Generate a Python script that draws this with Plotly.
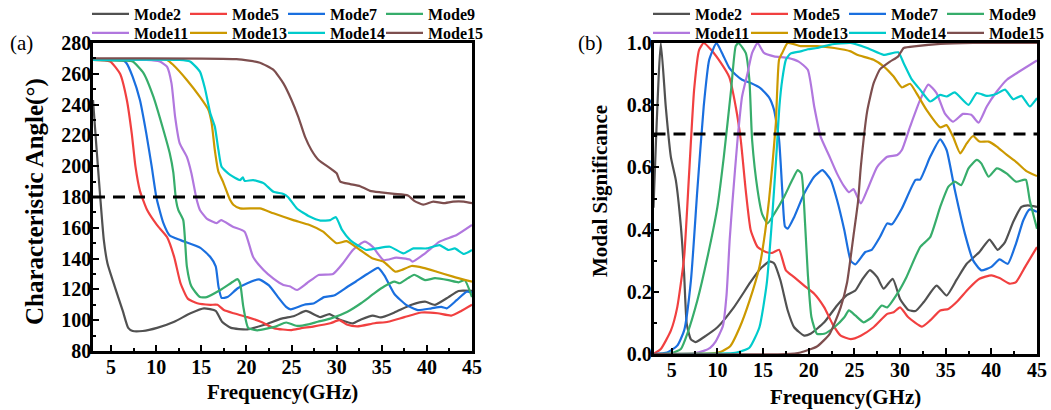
import plotly.graph_objects as go

# ---------------- data: (a) Characteristic Angle (deg) ----------------
ca_mode2_f = [3.0, 3.4, 3.8, 4.2, 4.6, 5.4, 6.3, 6.9, 7.4, 8.5, 10.1, 12.0, 13.8, 15.3, 16.6, 17.3, 18.3, 20.1, 22.0, 23.9, 25.3, 26.6, 28.2, 29.2, 30.3, 31.8, 32.7, 34.0, 34.9, 36.4, 38.3, 39.8, 40.9, 42.4, 43.5, 45.0]
ca_mode2_v = [243, 211, 180, 152, 137, 122, 106, 95, 93, 93, 95, 99, 104.5, 107.7, 106, 99, 95, 94, 97, 101, 102.7, 106, 102, 104, 100.5, 98, 100.5, 103, 101.8, 105, 110, 112, 110, 115, 119, 119]

ca_mode5_f = [3.0, 4.9, 6.0, 6.75, 7.3, 7.7, 8.2, 9.0, 10.1, 11.2, 12.0, 12.7, 13.5, 14.55, 16.0, 16.8, 17.5, 18.6, 20.1, 21.6, 23.1, 25.0, 26.0, 27.5, 29.3, 30.3, 31.2, 32.3, 34.2, 35.7, 37.5, 39.4, 41.2, 42.7, 43.8, 45.0]
ca_mode5_v = [269, 268, 260, 243, 221, 200, 184, 171.5, 161.7, 154, 141, 124, 114, 111, 110, 110, 106.6, 104.5, 102, 99, 94.7, 93.6, 94.7, 96, 98, 100, 97, 96, 98, 99, 102, 105, 104.5, 103, 106, 110]

ca_mode7_f = [3.0, 6.4, 6.7, 7.4, 8.2, 8.9, 9.5, 10.05, 10.8, 11.5, 12.7, 14.9, 16.0, 16.6, 16.9, 17.25, 17.9, 19.0, 20.1, 21.4, 22.5, 23.5, 24.4, 24.9, 26.4, 27.5, 28.6, 29.7, 31.2, 32.1, 33.4, 34.6, 35.3, 36.4, 37.7, 39.0, 40.5, 41.6, 42.2, 43.3, 44.4, 45.0]
ca_mode7_v = [269, 268.5, 267, 258, 243, 221.5, 200, 179, 163, 155, 152, 147, 141, 135, 122, 114.5, 115, 120.6, 124, 126.5, 122.6, 115, 108.6, 107, 110, 111, 115, 116, 121.7, 125, 130, 134, 129, 117, 110, 106.6, 107.7, 108.6, 107.7, 113, 118.5, 118]

ca_mode9_f = [3.0, 6.4, 7.4, 8.6, 9.7, 10.8, 11.5, 11.9, 12.2, 12.45, 13.0, 13.4, 13.9, 14.85, 15.6, 17.1, 18.5, 19.0, 19.3, 19.65, 20.2, 21.2, 23.3, 24.4, 25.6, 27.0, 27.9, 29.3, 31.2, 32.7, 34.2, 35.3, 36.4, 37.0, 37.9, 38.6, 39.8, 40.9, 42.4, 43.5, 44.2, 45.0]
ca_mode9_v = [269, 268.5, 268, 260.5, 245, 223.5, 208.5, 196, 178, 171.6, 165, 135, 122, 115, 115, 119.6, 125, 126.7, 124, 109, 95, 93.4, 96, 98.5, 96.3, 97.5, 99, 101, 105.5, 111, 117.6, 122, 125, 124, 127.3, 129.5, 126, 127.3, 126, 124.6, 126, 115]

ca_mode11_f = [3.0, 8.9, 10.4, 11.2, 11.7, 12.1, 12.6, 13.4, 13.9, 14.5, 14.85, 15.6, 16.7, 17.2, 18.5, 19.8, 20.75, 21.9, 23.0, 24.1, 24.8, 25.6, 26.7, 28.0, 29.6, 30.7, 31.8, 33.1, 34.0, 35.2, 36.6, 38.1, 38.4, 39.8, 41.4, 43.3, 45.0]
ca_mode11_v = [269, 269, 268, 264.6, 253.8, 232, 215, 206, 195.6, 178, 171.6, 166, 163, 165, 160.7, 157.5, 141, 132.6, 127, 122.9, 122, 119.6, 124, 129.4, 130, 137, 145.6, 151, 147.6, 139, 140.6, 139.4, 138, 143.4, 151, 155.3, 161.8]

ca_mode13_f = [3.0, 11.2, 11.9, 13.4, 14.85, 15.8, 16.15, 16.5, 16.9, 17.4, 18.2, 18.55, 19.3, 21.5, 23.0, 25.2, 27.0, 28.5, 30.0, 31.1, 32.6, 34.0, 35.2, 36.5, 37.2, 38.3, 39.6, 41.1, 42.9, 45.0]
ca_mode13_v = [269, 269, 265.7, 256, 245, 236.5, 228, 210.5, 196.4, 190, 178, 175, 172.6, 172.6, 169.4, 165, 161.8, 157.5, 150, 151.3, 145.6, 140, 138, 131.5, 132.6, 135.2, 134, 131.5, 128.3, 125]

ca_mode14_f = [3.0, 12.6, 13.75, 14.85, 15.4, 16.0, 16.5, 16.9, 17.25, 18.2, 19.3, 19.6, 19.8, 20.75, 21.9, 23.0, 24.1, 24.6, 25.6, 27.0, 28.2, 29.3, 29.9, 30.6, 31.5, 32.6, 33.3, 34.4, 35.9, 37.4, 38.5, 40.0, 41.4, 42.4, 43.1, 44.1, 45.0]
ca_mode14_v = [269, 269, 268, 261.4, 250.6, 234.3, 225.7, 210.5, 199.7, 194.3, 191, 192.8, 190.5, 191, 189, 183.4, 182, 180, 172.5, 167.3, 164.7, 165, 167, 158.6, 152, 147.7, 145.6, 146.6, 147.7, 143.4, 146.6, 146.6, 148.8, 145.6, 146.6, 143, 145.6]

ca_mode15_f = [3.0, 18.9, 21.5, 23.0, 24.1, 25.0, 25.75, 26.5, 27.2, 28.0, 29.3, 30.0, 30.4, 31.5, 32.6, 33.7, 34.9, 36.4, 37.9, 38.6, 39.6, 40.7, 41.8, 42.9, 44.1, 45.0]
ca_mode15_v = [270, 269.5, 267.2, 262.5, 253.8, 243, 232, 219, 210.5, 204, 198.6, 195.4, 190, 188.4, 187, 184, 183, 182, 181, 177.5, 175, 177, 176, 177, 177, 176]

# ---------------- data: (b) Modal Significance ----------------
ms_mode2_f = [3.0, 3.8, 4.34, 4.9, 5.44, 6.0, 6.35, 6.64, 7.08, 7.6, 8.5, 10.0, 11.8, 13.6, 14.7, 15.7, 16.2, 16.9, 17.7, 18.4, 19.5, 20.2, 21.7, 23.1, 24.2, 25.1, 25.8, 26.7, 27.5, 28.2, 29.2, 30.0, 30.9, 31.7, 32.6, 34.0, 35.1, 36.2, 37.3, 38.7, 39.8, 40.7, 41.5, 42.4, 43.3, 44.0, 45.0]
ms_mode2_v = [0.47, 1.0, 0.796, 0.634, 0.56, 0.41, 0.26, 0.097, 0.048, 0.038, 0.054, 0.086, 0.15, 0.23, 0.274, 0.298, 0.292, 0.237, 0.14, 0.086, 0.059, 0.065, 0.102, 0.156, 0.19, 0.204, 0.237, 0.27, 0.247, 0.21, 0.242, 0.177, 0.142, 0.138, 0.167, 0.22, 0.188, 0.239, 0.29, 0.328, 0.368, 0.335, 0.36, 0.425, 0.473, 0.478, 0.473]

ms_mode5_f = [3.0, 3.8, 4.9, 5.6, 6.35, 6.9, 7.45, 8.0, 8.5, 9.3, 10.4, 11.3, 12.0, 12.55, 13.1, 13.65, 14.4, 15.3, 16.0, 16.75, 17.5, 18.4, 19.5, 20.6, 21.7, 22.6, 23.5, 24.6, 25.7, 27.1, 28.6, 29.3, 30.0, 30.9, 32.4, 33.3, 34.4, 35.3, 36.2, 37.5, 38.7, 40.0, 40.9, 42.0, 42.7, 43.7, 45.0]
ms_mode5_v = [0.0, 0.016, 0.075, 0.15, 0.31, 0.58, 0.85, 0.978, 1.0, 0.978, 0.935, 0.89, 0.796, 0.69, 0.527, 0.398, 0.344, 0.328, 0.325, 0.335, 0.269, 0.247, 0.22, 0.194, 0.15, 0.097, 0.059, 0.048, 0.059, 0.086, 0.129, 0.134, 0.15, 0.118, 0.088, 0.108, 0.14, 0.145, 0.167, 0.21, 0.242, 0.253, 0.244, 0.226, 0.231, 0.28, 0.344]

ms_mode7_f = [3.0, 4.5, 5.6, 6.35, 7.1, 7.8, 8.5, 9.1, 9.9, 10.5, 11.3, 12.0, 12.7, 13.65, 14.7, 15.7, 16.2, 16.75, 17.1, 17.4, 17.7, 18.4, 19.5, 20.6, 21.5, 22.4, 23.1, 23.9, 24.6, 25.1, 26.2, 26.9, 27.8, 28.6, 29.1, 30.2, 31.7, 32.2, 33.3, 34.4, 35.1, 36.0, 37.1, 38.0, 38.9, 40.0, 40.9, 41.8, 42.7, 43.5, 44.2, 45.0]
ms_mode7_v = [0.0, 0.005, 0.027, 0.075, 0.237, 0.527, 0.796, 0.946, 1.0, 0.968, 0.92, 0.898, 0.882, 0.871, 0.855, 0.823, 0.785, 0.69, 0.527, 0.41, 0.403, 0.44, 0.516, 0.57, 0.591, 0.56, 0.495, 0.398, 0.30, 0.288, 0.328, 0.335, 0.376, 0.42, 0.417, 0.468, 0.56, 0.561, 0.634, 0.69, 0.656, 0.527, 0.387, 0.301, 0.269, 0.28, 0.304, 0.29, 0.355, 0.43, 0.465, 0.457]

ms_mode9_f = [3.0, 4.9, 6.0, 6.7, 7.8, 8.9, 10.0, 10.7, 11.5, 12.0, 12.3, 13.1, 13.5, 13.8, 14.4, 14.9, 15.5, 16.2, 17.3, 18.2, 18.8, 19.2, 19.6, 19.9, 20.3, 20.9, 21.7, 22.8, 23.9, 24.4, 25.1, 26.0, 26.9, 28.0, 28.6, 29.7, 30.7, 32.2, 33.3, 34.4, 35.3, 36.0, 36.7, 37.5, 38.4, 38.9, 39.7, 40.6, 41.7, 42.7, 43.5, 43.8, 44.2, 45.0]
ms_mode9_v = [0.0, 0.002, 0.016, 0.065, 0.172, 0.31, 0.473, 0.634, 0.85, 0.99, 1.0, 0.968, 0.882, 0.688, 0.527, 0.45, 0.42, 0.45, 0.505, 0.56, 0.591, 0.58, 0.42, 0.258, 0.118, 0.065, 0.065, 0.086, 0.118, 0.14, 0.124, 0.102, 0.118, 0.156, 0.15, 0.194, 0.247, 0.344, 0.376, 0.473, 0.538, 0.554, 0.543, 0.597, 0.624, 0.613, 0.57, 0.597, 0.58, 0.554, 0.56, 0.56, 0.495, 0.403]

ms_mode11_f = [3.0, 7.45, 8.5, 9.2, 9.8, 10.6, 11.0, 11.35, 11.65, 12.2, 12.7, 13.3, 13.8, 14.4, 15.1, 16.2, 17.7, 18.9, 19.9, 20.6, 21.3, 22.2, 23.1, 23.9, 24.4, 24.9, 25.7, 26.4, 27.5, 28.6, 29.7, 30.2, 31.1, 32.2, 33.1, 34.0, 34.9, 35.8, 36.9, 37.8, 38.6, 39.5, 40.6, 41.7, 43.1, 45.0]
ms_mode11_v = [0.0, 0.002, 0.01, 0.02, 0.04, 0.09, 0.19, 0.37, 0.49, 0.688, 0.828, 0.903, 0.968, 1.0, 0.968, 0.957, 0.952, 0.94, 0.914, 0.796, 0.699, 0.64, 0.58, 0.538, 0.52, 0.53, 0.484, 0.527, 0.602, 0.634, 0.64, 0.656, 0.731, 0.817, 0.866, 0.839, 0.774, 0.747, 0.772, 0.769, 0.744, 0.796, 0.844, 0.882, 0.909, 0.944]

ms_mode13_f = [3.0, 9.3, 10.3, 11.4, 12.45, 13.5, 14.6, 15.1, 15.65, 16.0, 16.4, 16.75, 17.1, 17.7, 19.1, 20.9, 22.8, 24.6, 25.3, 27.1, 28.2, 29.3, 30.2, 31.1, 31.8, 32.9, 34.4, 35.1, 35.8, 36.6, 37.3, 38.0, 38.7, 39.7, 40.6, 41.7, 42.7, 43.8, 45.0]
ms_mode13_v = [0.0, 0.002, 0.006, 0.025, 0.086, 0.17, 0.28, 0.366, 0.495, 0.602, 0.742, 0.946, 0.968, 1.0, 0.99, 0.99, 0.984, 0.973, 0.962, 0.946, 0.925, 0.892, 0.857, 0.869, 0.839, 0.785, 0.729, 0.736, 0.699, 0.645, 0.677, 0.701, 0.683, 0.683, 0.667, 0.64, 0.618, 0.589, 0.572]

ms_mode14_f = [3.0, 11.1, 12.1, 13.5, 14.6, 15.4, 16.0, 16.5, 16.8, 17.1, 17.5, 18.0, 19.1, 19.9, 20.9, 22.4, 24.6, 26.4, 28.2, 29.8, 30.4, 31.3, 32.2, 33.3, 34.4, 35.1, 36.0, 37.5, 38.4, 39.5, 40.6, 41.5, 42.4, 43.3, 44.2, 45.0]
ms_mode14_v = [0.0, 0.002, 0.005, 0.02, 0.086, 0.226, 0.44, 0.66, 0.8, 0.882, 0.946, 0.966, 0.973, 0.98, 0.984, 0.995, 1.0, 0.984, 0.962, 0.97, 0.935, 0.882, 0.85, 0.812, 0.833, 0.828, 0.841, 0.801, 0.839, 0.83, 0.837, 0.85, 0.819, 0.83, 0.796, 0.823]

ms_mode15_f = [3.0, 17.5, 19.1, 20.9, 22.3, 23.5, 24.2, 24.9, 25.4, 25.7, 26.4, 27.1, 27.8, 28.9, 29.8, 30.4, 31.8, 34.4, 38.0, 45.0]
ms_mode15_v = [0.0, 0.0, 0.005, 0.024, 0.065, 0.15, 0.23, 0.38, 0.49, 0.6, 0.78, 0.87, 0.915, 0.94, 0.957, 0.984, 0.99, 0.997, 1.0, 1.0]

mode_names = ["Mode2", "Mode5", "Mode7", "Mode9", "Mode11", "Mode13", "Mode14", "Mode15"]
mode_colors = ["#515151", "#F14040", "#1A6FDF", "#37AD6B", "#B177DE", "#CC9900", "#00CBCC", "#7D4E4E"]

ca_series = [(ca_mode2_f, ca_mode2_v), (ca_mode5_f, ca_mode5_v), (ca_mode7_f, ca_mode7_v), (ca_mode9_f, ca_mode9_v),
             (ca_mode11_f, ca_mode11_v), (ca_mode13_f, ca_mode13_v), (ca_mode14_f, ca_mode14_v), (ca_mode15_f, ca_mode15_v)]
ms_series = [(ms_mode2_f, ms_mode2_v), (ms_mode5_f, ms_mode5_v), (ms_mode7_f, ms_mode7_v), (ms_mode9_f, ms_mode9_v),
             (ms_mode11_f, ms_mode11_v), (ms_mode13_f, ms_mode13_v), (ms_mode14_f, ms_mode14_v), (ms_mode15_f, ms_mode15_v)]

threshold_f = [3.0, 45.0]
ca_threshold = [180, 180]
ms_threshold = [0.707, 0.707]

x_ticks = [5, 10, 15, 20, 25, 30, 35, 40, 45]
ca_ticks = [80, 100, 120, 140, 160, 180, 200, 220, 240, 260, 280]
ms_ticks = [0.0, 0.2, 0.4, 0.6, 0.8, 1.0]

# ---------------- figure ----------------
W, H = 1051, 410
FONT = "Liberation Serif"

fig = go.Figure()


def leg_width(i):
    # the last entry of a row gets room for its full label
    return 62 if i % 4 == 3 else None


for i, (name, color) in enumerate(zip(mode_names, mode_colors)):
    f, v = ca_series[i]
    fig.add_trace(go.Scatter(x=f, y=v, name=name, mode="lines",
                             line=dict(color=color, width=2.2, shape="spline", smoothing=0.5),
                             xaxis="x", yaxis="y", legend="legend" if i < 4 else "legend2",
                             legendwidth=leg_width(i)))
for i, (name, color) in enumerate(zip(mode_names, mode_colors)):
    f, v = ms_series[i]
    fig.add_trace(go.Scatter(x=f, y=v, name=name, mode="lines",
                             line=dict(color=color, width=2.2, shape="spline", smoothing=0.5),
                             xaxis="x2", yaxis="y2", legend="legend3" if i < 4 else "legend4",
                             legendwidth=leg_width(i)))

fig.add_trace(go.Scatter(x=threshold_f, y=ca_threshold, mode="lines", showlegend=False,
                         line=dict(color="black", width=3, dash="12px,8px"), xaxis="x", yaxis="y"))
fig.add_trace(go.Scatter(x=threshold_f, y=ms_threshold, mode="lines", showlegend=False,
                         line=dict(color="black", width=3, dash="12px,8px"), xaxis="x2", yaxis="y2"))


def px_x(p):
    return p / W


def px_y(p):
    return 1 - p / H


tickfont = dict(family=FONT, size=20, color="black", weight="bold")
common_axis = dict(showline=True, mirror=True, linecolor="black", linewidth=2.5,
                   ticks="inside", ticklen=6, tickwidth=2, tickcolor="black",
                   showgrid=False, zeroline=False, automargin=False, tickfont=tickfont)

fig.update_layout(
    width=W, height=H,
    margin=dict(l=0, r=0, t=0, b=0, autoexpand=False),
    paper_bgcolor="white", plot_bgcolor="white",
    xaxis=dict(domain=[px_x(93), px_x(472)], range=[3, 45], anchor="y", tickvals=x_ticks,
               ticklabelstandoff=-4,
               minor=dict(ticks="inside", ticklen=3.5, tickwidth=2, tickcolor="black", dtick=2.5, tick0=0),
               **common_axis),
    yaxis=dict(domain=[px_y(351), px_y(43)], range=[80, 280], anchor="x", tickvals=ca_ticks,
               ticklabelstandoff=-5,
               minor=dict(ticks="inside", ticklen=3.5, tickwidth=2, tickcolor="black", dtick=10, tick0=0),
               **common_axis),
    xaxis2=dict(domain=[px_x(653.5), px_x(1037)], range=[3, 45], anchor="y2", tickvals=x_ticks,
                ticklabelstandoff=-4,
                minor=dict(ticks="inside", ticklen=3.5, tickwidth=2, tickcolor="black", dtick=2.5, tick0=0),
                **common_axis),
    yaxis2=dict(domain=[px_y(354), px_y(43)], range=[0, 1], anchor="x2", tickvals=ms_ticks,
                tickformat=".1f", ticklabelstandoff=-5,
                minor=dict(ticks="inside", ticklen=3.5, tickwidth=2, tickcolor="black", dtick=0.1, tick0=0),
                **common_axis),
)


def legend_cfg(px_left, py_center):
    return dict(orientation="h", xref="container", yref="container",
                x=px_x(px_left), y=px_y(py_center), xanchor="left", yanchor="middle",
                entrywidth=46, entrywidthmode="pixels", itemwidth=37,
                font=dict(family=FONT, size=16, color="black", weight="bold"),
                bgcolor="rgba(0,0,0,0)", borderwidth=0, tracegroupgap=0, traceorder="normal")


fig.update_layout(
    legend=legend_cfg(87, 14),
    legend2=legend_cfg(87, 33),
    legend3=legend_cfg(648, 14),
    legend4=legend_cfg(648, 33),
)

title_font = dict(family=FONT, size=21, color="black", weight="bold")
annos = [
    dict(text="(a)", x=px_x(21), y=px_y(43), font=dict(family=FONT, size=21, color="black")),
    dict(text="(b)", x=px_x(590), y=px_y(43), font=dict(family=FONT, size=21, color="black")),
    dict(text="Characteristic Angle(°)", x=px_x(35), y=px_y(202), textangle=-90,
         font=dict(family=FONT, size=25, color="black", weight="bold")),
    dict(text="Frequency(GHz)", x=px_x(282.5), y=px_y(392), font=title_font),
    dict(text="Modal Significance", x=px_x(600), y=px_y(191), textangle=-90, font=title_font),
    dict(text="Frequency(GHz)", x=px_x(845), y=px_y(397), font=title_font),
]
for a in annos:
    fig.add_annotation(xref="paper", yref="paper", xanchor="center", yanchor="middle",
                       showarrow=False, **a)

# the page body gets no default margin, so the 1051x410 figure fills the window exactly
fig.write_html("out.html", config={"displayModeBar": False},
               post_script="document.body.style.margin='0';document.body.style.overflow='hidden';")
